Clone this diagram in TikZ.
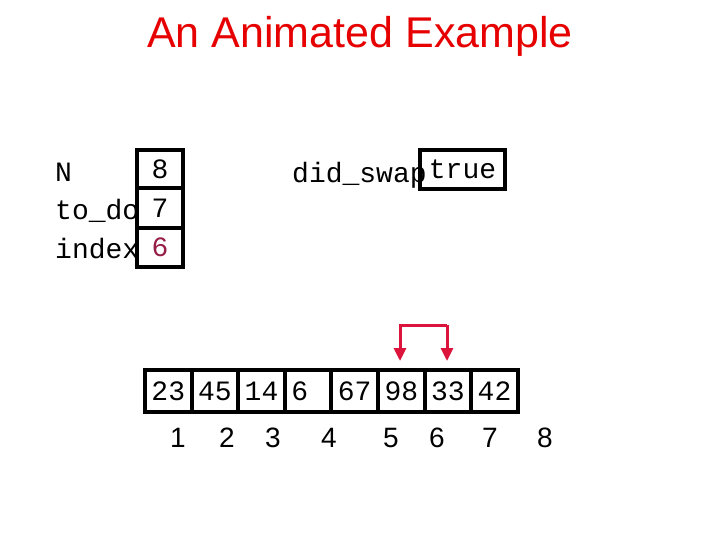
\documentclass[tikz,border=0pt]{standalone}
\usepackage{fontspec}
\setmainfont{Liberation Sans}
\newfontfamily\mono{Liberation Mono}
\usetikzlibrary{arrows.meta}
\definecolor{tred}{RGB}{230,0,0}
\definecolor{ared}{RGB}{220,20,60}
\definecolor{maroon}{RGB}{150,30,70}
\begin{document}
\begin{tikzpicture}[x=1pt,y=-1pt,
  box/.style={draw=black,line width=4pt,minimum width=46pt,minimum height=40pt,inner sep=0pt,font=\mono\fontsize{28}{28}\selectfont},
  lbl/.style={anchor=west,inner sep=0pt,font=\mono\fontsize{28}{28}\selectfont},
  idx/.style={inner sep=0pt,font=\fontsize{28}{28}\selectfont}]
\useasboundingbox (0,0) rectangle (720,540);
\node[text=tred,font=\fontsize{43}{43}\selectfont] (title) at (360,36) {An Animated Example};
% variables
\node[box,minimum height=38pt] (vN) at (160,169) {8};
\node[box,minimum height=40pt] (vT) at (160,208) {7};
\node[box,minimum height=39pt,text=maroon] (vI) at (160,247.5) {6};
\node[lbl] (lN) at (55,172) {N};
\node[lbl] (lT) at (55,211) {to\_do};
\node[lbl] (lI) at (55,249) {index};
\node[lbl] (lD) at (292,175) {did\_swap};
\node[box,minimum width=85pt,minimum height=39pt] (vD) at (462.5,169.5) {true};
% array
\foreach \v [count=\i] in {23,45,14,6\phantom{0},67,98,33,42}{
  \node[box,minimum width=46.6pt,minimum height=42pt] (c\i) at (145+46.6*\i-23.3,391) {\v};
}
\foreach \n/\x in {1/178,2/227,3/273,4/329,5/391,6/437,7/490,8/545}{
  \node[idx] (n\n) at (\x,438) {\n};
}
\coordinate (t5) at (400,325);
\coordinate (t6) at (447,325);
\draw[ared,line width=3pt,-{Triangle[length=13pt,width=12pt]}] (t6) -- (t5) -- (400,361);
\draw[ared,line width=3pt,-{Triangle[length=13pt,width=12pt]}] (t6) -- (447,361);
\end{tikzpicture}
\end{document}
